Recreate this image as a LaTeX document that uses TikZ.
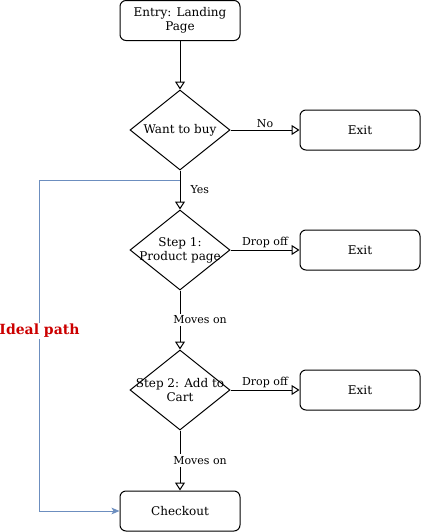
\documentclass[tikz,border=0pt]{standalone}
\usepackage{fontspec}
\setmainfont{DejaVu Serif}
\usetikzlibrary{shapes.geometric,arrows.meta}
\definecolor{idealblue}{HTML}{6C8EBF}
\definecolor{idealred}{HTML}{CC0000}
\begin{document}
\begin{tikzpicture}[x=0.75pt,y=-0.75pt,line width=0.75pt,
		box/.style={rectangle,draw,rounded corners=4.5pt,minimum width=90pt,minimum height=30pt,align=center,font=\fontsize{9}{10.5}\selectfont},
		dia/.style={diamond,draw,minimum width=75pt,minimum height=60pt,inner sep=0pt},
		txt/.style={align=center,inner sep=0pt,font=\fontsize{9}{10.5}\selectfont},
		lab/.style={font=\fontsize{8.25}{9.5}\selectfont,inner sep=1.5pt},
		flow/.style={-{Triangle[open,length=6pt,width=7.5pt]}},
		ideal/.style={draw=idealblue,-{Stealth[length=6pt,width=5pt,inset=1.5pt]}}]
		\useasboundingbox (0,0) rectangle (421,532);
		\node [box] (0) at (180,20.5) {Entry: Landing\\Page};
		\node [dia,label={[txt]center:{Want to buy}}] (1) at (180,130) {};
		\node [box] (2) at (360,130) {Exit};
		\node [dia,label={[txt]center:{Step 1:\\Product page}}] (3) at (180,250) {};
		\node [box] (4) at (360,250) {Exit};
		\node [dia,label={[txt]center:{Step 2: Add to\\Cart}}] (5) at (180,390) {};
		\node [box] (6) at (360,390) {Exit};
		\node [box] (7) at (180,511) {Checkout};
		\coordinate (8) at (180,180);
		\draw [flow] (0) -- (1);
		\draw [flow] (1) -- node [lab,above] {No} (2);
		\draw [flow] (1) -- node [lab,right,xshift=6pt] {Yes} (3);
		\draw [flow] (3) -- node [lab,above] {Drop off} (4);
		\draw [flow] (3) -- node [lab,fill=white,xshift=15pt] {Moves on} (5);
		\draw [flow] (5) -- node [lab,above] {Drop off} (6);
		\draw [flow] (5) -- node [lab,fill=white,xshift=15pt] {Moves on} (7);
		\draw [ideal] (8) -| node [pos=0.728,fill=white,inner sep=1pt,text=idealred,font=\fontsize{10.5}{12}\selectfont\bfseries] {Ideal path} ([xshift=-60pt]7.west) -- (7.west);
	\end{tikzpicture}
\end{document}
